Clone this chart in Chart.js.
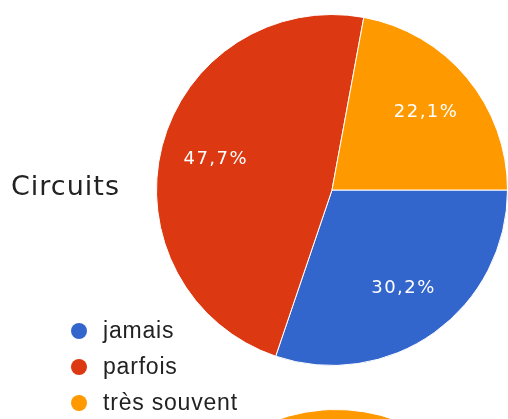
<!DOCTYPE html>
<html>
<head>
<meta charset="utf-8">
<script src="https://cdn.jsdelivr.net/npm/chart.js@4"></script>
<style>
  html, body { margin: 0; padding: 0; background: #fff; overflow: hidden; }
  #wrap { position: relative; width: 508px; height: 419px; overflow: hidden; }
  #circuits { position: absolute; left: 0; top: 0; }
  #suivant { position: absolute; left: 4px; top: 395px; }
</style>
</head>
<body>
<div id="wrap">
  <canvas id="suivant" width="508" height="419"></canvas>
  <canvas id="circuits" width="508" height="419"></canvas>
</div>
<script>
const titre = "Circuits";
const reponses = ["jamais", "parfois", "très souvent"];
const pourcentages = [30.2, 47.7, 22.1];
// question suivante, seul le haut du disque est visible
const pourcentagesSuivant = [18.6, 30.2, 51.2];
const couleurs = ["#3366cc", "#dc3912", "#ff9900"];

// pourcentages écrits dans chaque part
const etiquettes = {
  id: "etiquettes",
  afterDatasetsDraw(chart) {
    const ctx = chart.ctx;
    const meta = chart.getDatasetMeta(0);
    const valeurs = chart.data.datasets[0].data;
    ctx.save();
    ctx.font = "18px 'DejaVu Sans', sans-serif";
    ctx.letterSpacing = "1.5px";
    ctx.fillStyle = "#ffffff";
    ctx.textAlign = "center";
    ctx.textBaseline = "middle";
    meta.data.forEach(function (arc, i) {
      const a = (arc.startAngle + arc.endAngle) / 2;
      const r = arc.outerRadius * 0.69;
      const txt = valeurs[i].toFixed(1).replace(".", ",") + "%";
      ctx.fillText(txt, arc.x + Math.cos(a) * r + 1, arc.y + Math.sin(a) * r);
    });
    ctx.restore();
  },
};

// titre à gauche et légende en bas à gauche
const titreLegende = {
  id: "titreLegende",
  afterDraw(chart) {
    const ctx = chart.ctx;
    const ds = chart.data.datasets[0];
    ctx.save();
    ctx.fillStyle = "#222222";
    ctx.textAlign = "left";
    ctx.textBaseline = "alphabetic";
    ctx.font = "27px 'DejaVu Sans', sans-serif";
    ctx.letterSpacing = "1px";
    ctx.fillText(titre, 11, 195);

    ctx.font = "23px 'Liberation Sans', Arial, sans-serif";
    ctx.letterSpacing = "0.8px";
    ctx.textBaseline = "middle";
    chart.data.labels.forEach(function (lab, i) {
      const y = 331 + i * 36;
      ctx.beginPath();
      ctx.arc(79, y, 8, 0, Math.PI * 2);
      ctx.fillStyle = ds.backgroundColor[i];
      ctx.fill();
      ctx.fillStyle = "#222222";
      ctx.fillText(lab, 103, y + 1);
    });
    ctx.restore();
  },
};

function camembert(id, valeurs, extras) {
  return new Chart(document.getElementById(id), {
    type: "pie",
    data: {
      labels: reponses,
      datasets: [
        {
          data: valeurs,
          backgroundColor: couleurs,
          borderColor: "#ffffff",
          borderWidth: 1,
          hoverOffset: 0,
        },
      ],
    },
    options: {
      responsive: false,
      animation: false,
      rotation: 90,
      layout: { padding: { left: 156, right: 0, top: 14, bottom: 53 } },
      plugins: {
        legend: { display: false },
        tooltip: { enabled: false },
      },
    },
    plugins: extras,
  });
}

camembert("suivant", pourcentagesSuivant, []);
camembert("circuits", pourcentages, [etiquettes, titreLegende]);
</script>
</body>
</html>
